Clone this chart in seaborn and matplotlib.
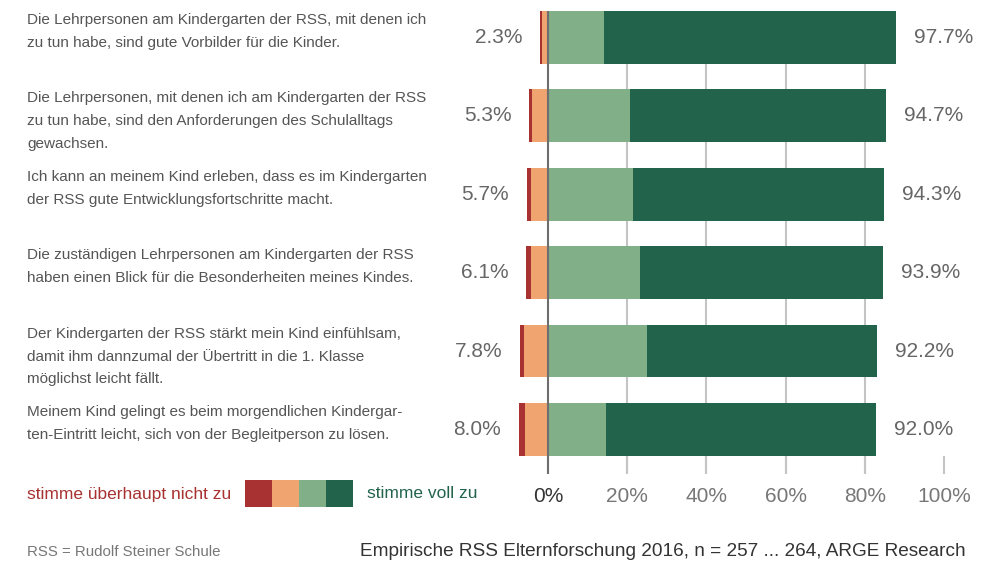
import numpy as np
import pandas as pd
import matplotlib
matplotlib.use("Agg")
import matplotlib.pyplot as plt
import matplotlib.transforms as mtransforms
import seaborn as sns

sns.set_style("white")
plt.rcParams["font.family"] = ["Liberation Sans", "DejaVu Sans"]

# data (bar lengths, labels as printed)
questions = [
    "Die Lehrpersonen am Kindergarten der RSS, mit denen ich\nzu tun habe, sind gute Vorbilder für die Kinder.",
    "Die Lehrpersonen, mit denen ich am Kindergarten der RSS\nzu tun habe, sind den Anforderungen des Schulalltags\ngewachsen.",
    "Ich kann an meinem Kind erleben, dass es im Kindergarten\nder RSS gute Entwicklungsfortschritte macht.",
    "Die zuständigen Lehrpersonen am Kindergarten der RSS\nhaben einen Blick für die Besonderheiten meines Kindes.",
    "Der Kindergarten der RSS stärkt mein Kind einfühlsam,\ndamit ihm dannzumal der Übertritt in die 1. Klasse\nmöglichst leicht fällt.",
    "Meinem Kind gelingt es beim morgendlichen Kindergar-\nten-Eintritt leicht, sich von der Begleitperson zu lösen.",
]
gar_nicht = np.array([0.5, 0.7, 1.0, 1.1, 1.1, 1.5])
eher_nicht = np.array([1.5, 4.0, 4.3, 4.4, 6.0, 5.8])
eher_ja = np.array([14.2, 20.7, 21.5, 23.2, 25.0, 14.6])
voll = np.array([73.7, 64.6, 63.4, 61.4, 58.1, 68.2])
neg_labels = ["2.3%", "5.3%", "5.7%", "6.1%", "7.8%", "8.0%"]
pos_labels = ["97.7%", "94.7%", "94.3%", "93.9%", "92.2%", "92.0%"]
ticks = [0, 20, 40, 60, 80, 100]
tick_labels = ["0%", "20%", "40%", "60%", "80%", "100%"]

c_red = "#A83232"
c_orange = "#F0A470"
c_lgreen = "#80AF88"
c_dgreen = "#22634C"
txt_grey = "#555555"

df = pd.DataFrame({
    "frage": [str(i) for i in range(len(questions))],
    "pos_total": eher_ja + voll,
    "pos_light": eher_ja,
    "neg_total": -(gar_nicht + eher_nicht),
    "neg_orange": -eher_nicht,
})
order = list(df["frage"])

fig = plt.figure(figsize=(9.92, 5.64), dpi=100)
ax = fig.add_axes([440 / 992, 1 - 474 / 564, 1 - 440 / 992, (474 - 11) / 564])

bw = 0.672
for col, c in [("pos_total", c_dgreen), ("pos_light", c_lgreen),
               ("neg_total", c_red), ("neg_orange", c_orange)]:
    sns.barplot(data=df, x=col, y="frage", order=order, orient="h", color=c,
                saturation=1, width=bw, linewidth=0, errorbar=None, ax=ax, zorder=2)

for t in ticks[:-1]:
    if t == 0:
        ax.axvline(t, color="#6e6e6e", lw=1.5, zorder=3)
    else:
        ax.axvline(t, color="#c4c4c4", lw=1.5, zorder=1)

ax.set_xlim(-27.27, 112.12)
ax.set_ylim(5.567, -0.335)
ax.set_xticks(ticks)
ax.set_xticklabels(tick_labels, fontsize=15, color="#777777")
ax.get_xticklabels()[0].set_color("#333333")
ax.tick_params(axis="x", direction="in", length=13, width=1.5, color="#c4c4c4", pad=9, bottom=True)
ax.set_yticks([])
ax.set_xlabel("")
ax.set_ylabel("")
for s in ax.spines.values():
    s.set_visible(False)

# value labels
for i in range(len(questions)):
    ax.text(df["neg_total"][i] - 4.5, i, neg_labels[i], ha="right", va="center",
            fontsize=15, color="#666666")
    ax.text(df["pos_total"][i] + 4.5, i, pos_labels[i], ha="left", va="center",
            fontsize=15, color="#666666")

# question texts on the left
trans = mtransforms.blended_transform_factory(fig.transFigure, ax.transData)
for i, q in enumerate(questions):
    ax.text(27 / 992, i - 0.31, q, transform=trans, ha="left", va="top",
            fontsize=11, color=txt_grey, linespacing=1.8)

# legend
fig.text(27 / 992, 1 - 494 / 564, "stimme überhaupt nicht zu", ha="left", va="center",
         fontsize=12.5, color=c_red)
for k, c in enumerate([c_red, c_orange, c_lgreen, c_dgreen]):
    fig.patches.append(plt.Rectangle(((245 + 27 * k) / 992, 1 - 507 / 564), 27 / 992, 27 / 564,
                                     transform=fig.transFigure, color=c, lw=0))
fig.text(367 / 992, 1 - 494 / 564, "stimme voll zu", ha="left", va="center",
         fontsize=12.5, color=c_dgreen)

# footer
fig.text(27 / 992, 1 - 552 / 564, "RSS = Rudolf Steiner Schule", ha="left", va="center",
         fontsize=10.8, color="#777777")
fig.text(966 / 992, 1 - 552 / 564, "Empirische RSS Elternforschung 2016, n = 257 ... 264, ARGE Research",
         ha="right", va="center", fontsize=13.7, color="#333333")

fig.savefig("out.png", dpi=100)
